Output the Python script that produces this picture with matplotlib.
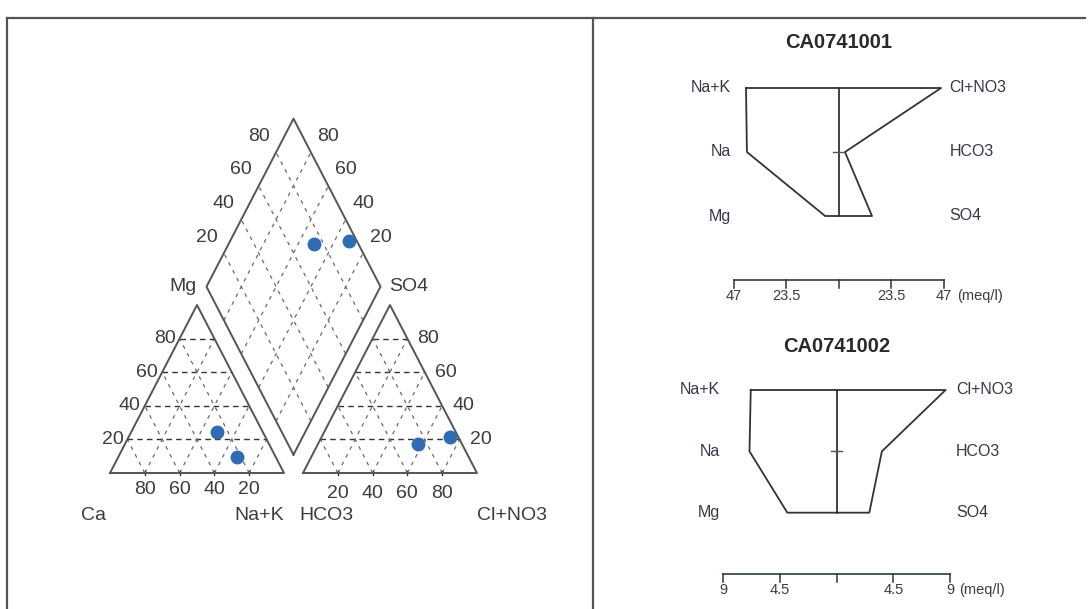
import numpy as np
import matplotlib.pyplot as plt
from matplotlib.lines import Line2D

plt.rcParams['font.family'] = ['Liberation Sans', 'DejaVu Sans']

# ---- data ----
samples = ['CA0741001', 'CA0741002']
# Piper percentages (meq %)
ca = [22.3, 26.3]
mg = [9.5, 24.4]
nak = [68.2, 49.3]
hco3 = [4.8, 25.2]
so4 = [21.4, 17.3]
cl = [73.8, 57.5]

# Stiff values (meq/l)
stiff_left_labels = ['Na+K', 'Na', 'Mg']
stiff_right_labels = ['Cl+NO3', 'HCO3', 'SO4']
stiff_cations = [[41.4, 41.0, 6.0], [6.8, 6.9, 3.9]]
stiff_anions = [[45.9, 2.9, 15.0], [8.65, 3.6, 2.6]]
stiff_scale = [47, 9]

grid_vals = [20, 40, 60, 80]

W, H = 1091, 609
TXT = '#3c3c3c'
EDGE = '#555555'
DOT = '#2F6CB3'
PT = 0.72  # points per pixel at 100 dpi

fig = plt.figure(figsize=(W / 100, H / 100), dpi=100)


def px_box(x0, y0, x1, y1):
    return [x0 / W, 1 - y1 / H, (x1 - x0) / W, (y1 - y0) / H]


# frame lines
for xs, ys in [([7, 7], [18, H]), ([593, 593], [18, H]), ([7, 1085], [18, 18])]:
    fig.add_artist(Line2D([x / W for x in xs], [1 - y / H for y in ys],
                          transform=fig.transFigure, color=EDGE, lw=1.6))

# ---- Piper diagram ----
S3 = np.sqrt(3) / 2
G = 0.109
X0, KX, Y0, KY = 110, 174, 473, 194   # pixel mapping of piper units
bx0, by0, bx1, by1 = 30, 60, 585, 580
ax = fig.add_axes(px_box(bx0, by0, bx1, by1))
ax.set_xlim((bx0 - X0) / KX, (bx1 - X0) / KX)
ax.set_ylim((Y0 - by1) / KY, (Y0 - by0) / KY)
ax.axis('off')


def cat_xy(m, n):
    return n + m / 2, m * S3


def an_xy(s, c):
    return 1 + G + c + s / 2, s * S3


def diamond_xy(x1, y1, x2, y2):
    t = ((x2 - x1) * 2 + (y2 - y1) / S3) / 2
    return x1 + t / 2, y1 + t * S3


B = np.array([1 + G / 2, G * S3])
L = np.array([0.5 + G / 2, S3 + G * S3])
T = np.array([1 + G / 2, 2 * S3 + G * S3])
R = np.array([1.5 + G / 2, S3 + G * S3])

hstyle = dict(color='#333333', lw=1.0, dashes=(4, 3))
dstyle = dict(color='#6a6a6a', lw=0.9, dashes=(3, 4))

for off in [0, 1 + G]:
    for v in grid_vals:
        f = v / 100
        ax.plot([off + f / 2, off + 1 - f / 2], [f * S3, f * S3], **hstyle)
        ax.plot([off + f, off + f + (1 - f) / 2], [0, (1 - f) * S3], **dstyle)
        ax.plot([off + 1 - f, off + (1 - f) / 2], [0, (1 - f) * S3], **dstyle)
        ax.plot([off + f, off + f], [-0.012, 0.012], color='#333333', lw=1.0)
    ax.plot([off, off + 1, off + 0.5, off], [0, 0, S3, 0], color=EDGE, lw=1.4)

for v in grid_vals:
    f = v / 100
    p = B + f * (L - B)
    q = p + (R - B)
    ax.plot([p[0], q[0]], [p[1], q[1]], **dstyle)
    p = B + f * (R - B)
    q = p + (L - B)
    ax.plot([p[0], q[0]], [p[1], q[1]], **dstyle)
dia = np.array([B, R, T, L, B])
ax.plot(dia[:, 0], dia[:, 1], color=EDGE, lw=1.4)

fs = 14
kw = dict(textcoords='offset points', fontsize=fs, color=TXT)
for v in grid_vals:
    f = v / 100
    ax.annotate(str(v), (1 - f, 0), xytext=(0, -8 * PT), ha='center', va='top', **kw)
    ax.annotate(str(v), (1 + G + f, 0), xytext=(0, -12 * PT), ha='center', va='top', **kw)
    ax.annotate(str(v), (f / 2, f * S3), xytext=(-4 * PT, 0), ha='right', va='center', **kw)
    ax.annotate(str(v), (2 + G - f / 2, f * S3), xytext=(10 * PT, 0), ha='left', va='center', **kw)
    pl = L + f * (T - L)
    ax.annotate(str(v), pl, xytext=(-17.5 * PT, 16 * PT), ha='center', va='center', **kw)
    pr = R + f * (T - R)
    ax.annotate(str(v), pr, xytext=(17.5 * PT, 16 * PT), ha='center', va='center', **kw)

ax.annotate('Ca', (0, 0), xytext=(-4 * PT, -42 * PT), ha='right', va='center', **kw)
ax.annotate('Na+K', (1, 0), xytext=(0, -42 * PT), ha='right', va='center', **kw)
ax.annotate('HCO3', (1 + G, 0), xytext=(-4 * PT, -42 * PT), ha='left', va='center', **kw)
ax.annotate('Cl+NO3', (2 + G, 0), xytext=(0, -42 * PT), ha='left', va='center', **kw)
ax.annotate('Mg', L, xytext=(-10 * PT, 0), ha='right', va='center', **kw)
ax.annotate('SO4', R, xytext=(9 * PT, 0), ha='left', va='center', **kw)

for i in range(len(samples)):
    x1, y1 = cat_xy(mg[i] / 100, nak[i] / 100)
    x2, y2 = an_xy(so4[i] / 100, cl[i] / 100)
    xd, yd = diamond_xy(x1, y1, x2, y2)
    ax.plot([x1, x2, xd], [y1, y2, yd], 'o', ms=9, color=DOT, zorder=5)

# ---- Stiff diagrams ----
stiff_boxes = [(838.5, 105, 88, 280), (836.5, 113.5, 390, 574)]
for i, name in enumerate(samples):
    cx, half, ytop, ybar = stiff_boxes[i]
    S = stiff_scale[i]
    sa = fig.add_axes(px_box(cx - half, ytop, cx + half, ybar))
    sa.set_xlim(-S, S)
    sa.set_ylim(3, 0)
    sa.axis('off')
    lk = dict(color='#333333', lw=1.3, clip_on=False)
    xs = [-c for c in stiff_cations[i]] + stiff_anions[i][::-1]
    ys = [0, 1, 2, 2, 1, 0]
    sa.plot(xs + [xs[0]], ys + [ys[0]], **lk)
    sa.plot([0, 0], [0, 2], **lk)
    sa.plot([-0.05 * S, 0.05 * S], [1, 1], color='#555555', lw=1.0, clip_on=False)
    # scale bar
    ticks = [-S, -S / 2, 0, S / 2, S]
    sa.plot([-S, S], [3, 3], color='#3a4a5a', lw=1.3, clip_on=False)
    for t in ticks:
        sa.plot([t, t], [3, 3.13], color='#333333', lw=1.1, clip_on=False)
        if t != 0:
            sa.annotate(f'{abs(t):g}', (t, 3), xytext=(0, -9 * PT), textcoords='offset points',
                        ha='center', va='top', fontsize=10.5, color=TXT)
    nw = len(f'{S:g}') * 0.556 * 10.5
    sa.annotate('(meq/l)', (S, 3), xytext=(nw / 2 + 4, -9 * PT), textcoords='offset points',
                ha='left', va='top', fontsize=10.5, color=TXT)
    for r in range(3):
        sa.annotate(stiff_left_labels[r], (-S, r), xytext=(-3 * PT, 0), textcoords='offset points',
                    ha='right', va='center', fontsize=11.5, color='#34384a')
        sa.annotate(stiff_right_labels[r], (S, r), xytext=(6 * PT, 0), textcoords='offset points',
                    ha='left', va='center', fontsize=11.5, color='#34384a')
    sa.text(0, -0.71, name, ha='center', va='center', fontsize=14.5, fontweight='bold', color='#2a2a2a')

fig.savefig('out.png', dpi=100)
